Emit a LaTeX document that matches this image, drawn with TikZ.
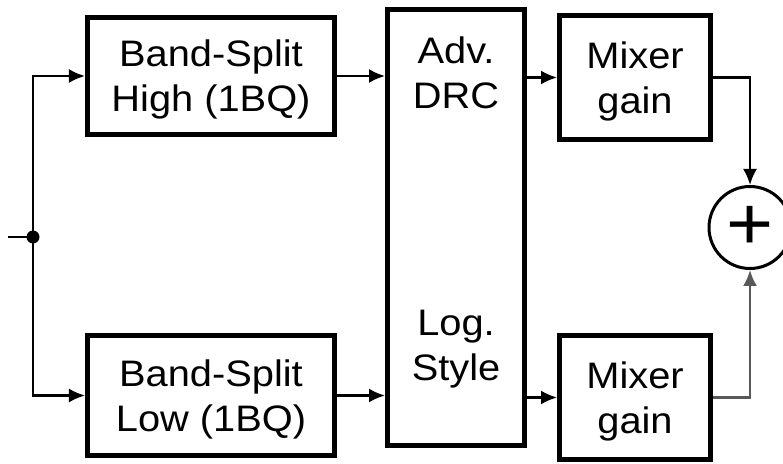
\documentclass[tikz,border=0pt]{standalone}
\usepackage{fontspec}
\setmainfont[FakeStretch=1.08]{Liberation Sans}
\usetikzlibrary{arrows.meta}

\begin{document}
\begin{tikzpicture}[x=1bp, y=-1bp,
        every node/.style={font=\fontsize{37}{45}\selectfont, align=center, text depth=0pt},
        blk/.style={draw, line width=5bp, inner sep=0pt},
        sig/.style={line width=2.3bp, -{Latex[length=16bp,width=14bp]}}]
            \useasboundingbox (0,0) rectangle (783,464);
            % band split filters
            \node[blk, minimum width=247bp, minimum height=117bp] (high) at (211,76) {Band-Split\\High (1BQ)};
            \node[blk, minimum width=247bp, minimum height=120bp] (low) at (211,395.5) {Band-Split\\Low (1BQ)};
            % compressor block with its two labels
            \node[blk, minimum width=137bp, minimum height=436bp] (drc) at (456,227.5) {};
            \node (adv) at (456,73) {Adv.\\DRC};
            \node (logst) at (456,345) {Log.\\Style};
            % mixer gains and summing point
            \node[blk, minimum width=151bp, minimum height=124bp] (mixtop) at (635,77.5) {Mixer\\gain};
            \node[blk, minimum width=151bp, minimum height=124bp] (mixbot) at (635,397.5) {Mixer\\gain};
            \node[draw, circle, line width=3bp, minimum size=82bp, inner sep=0pt, font=\fontsize{75}{75}\selectfont] (sum) at (750,227.5) {+};
            % input and split point
            \coordinate (in) at (8,237);
            \coordinate (split) at (33,237);
            \draw[line width=2.3bp] (in) -- (split);
            \fill (split) circle (6.5bp);
            \draw[sig] (split) |- (high.west);
            \draw[sig] (split) |- (low.west);
            \draw[sig] (high.east) -- (high.east -| drc.west);
            \draw[sig] (low.east) -- (low.east -| drc.west);
            \draw[sig] (drc.east |- mixtop) -- (mixtop.west);
            \draw[sig] (drc.east |- mixbot) -- (mixbot.west);
            \draw[sig] (mixtop.east) -| (sum.north);
            \draw[sig, black!65] (mixbot.east) -| (sum.south);
\end{tikzpicture}
\end{document}
